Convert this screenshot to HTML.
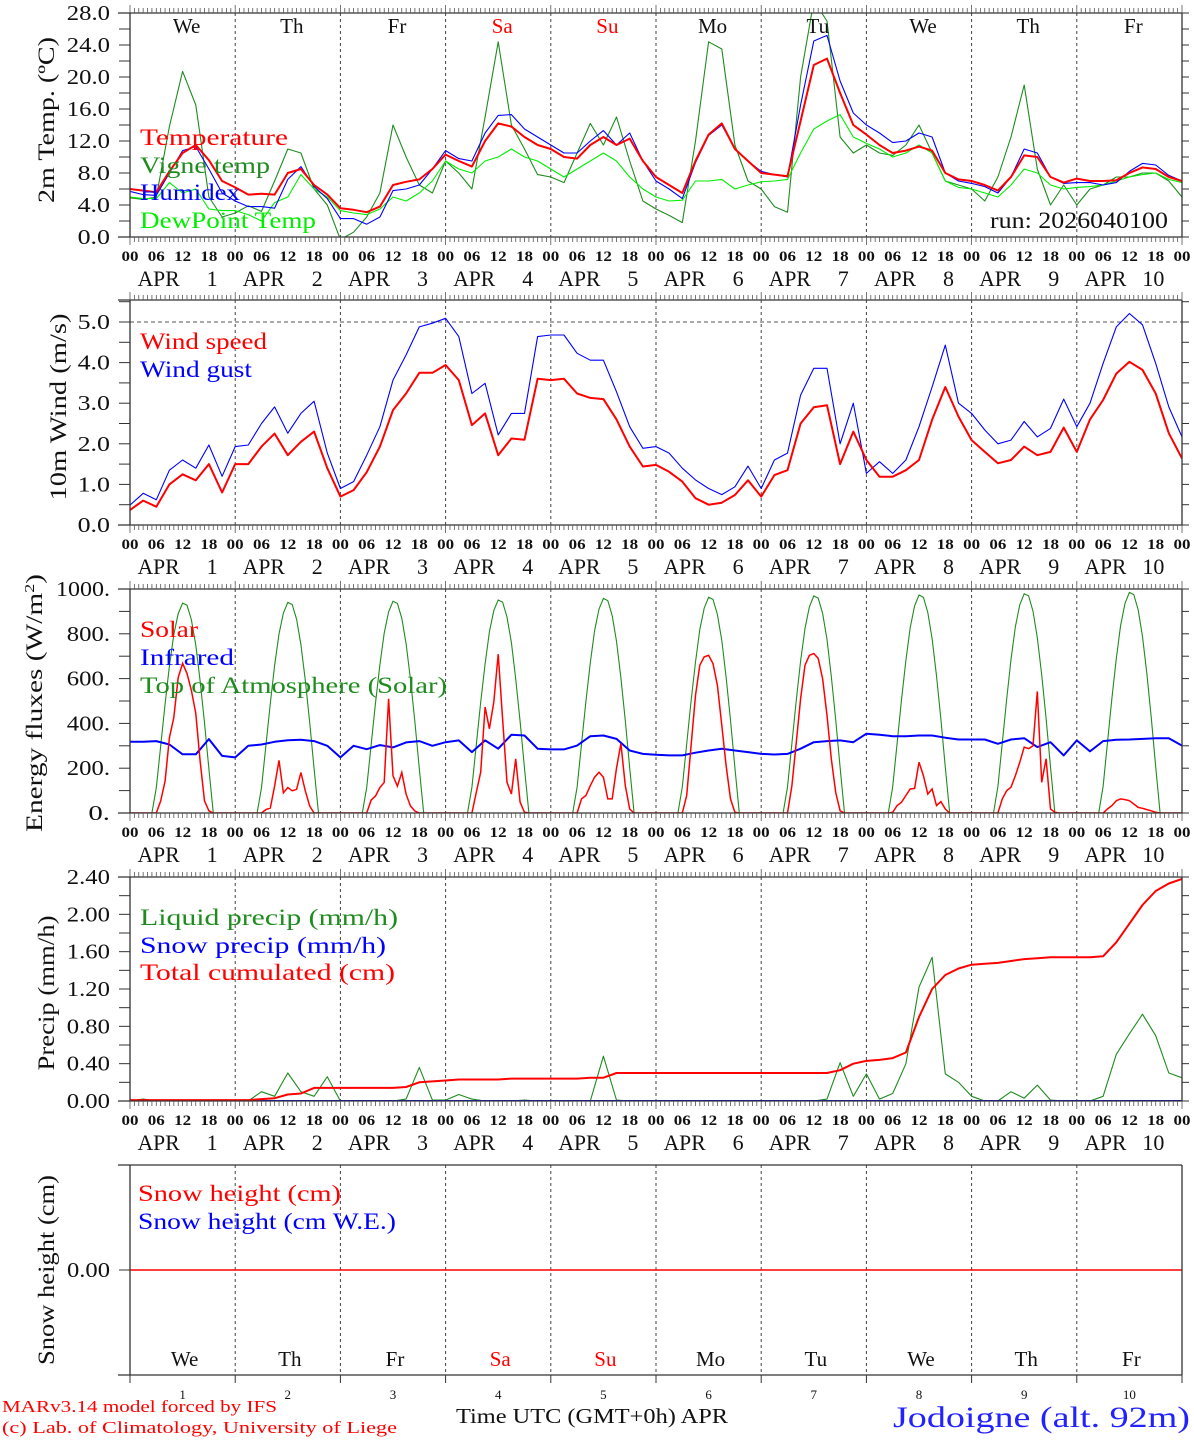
<!DOCTYPE html>
<html><head><meta charset="utf-8"><title>Jodoigne forecast</title>
<style>
html,body{margin:0;padding:0;background:#fff;}
svg{display:block;font-family:"Liberation Serif","DejaVu Serif",serif;}
</style></head>
<body>
<svg id="chart" xmlns="http://www.w3.org/2000/svg" width="1194" height="1440" viewBox="0 0 1194 1440">
<rect x="0" y="0" width="1194" height="1440" fill="#fff"/>
<g id="grid"></g>
<g id="series"></g>
<g id="axes"></g>
<g id="labels" font-size="23">
  <text x="140" y="145" fill="#ff0000" textLength="148" lengthAdjust="spacingAndGlyphs">Temperature</text>
  <text x="140" y="173" fill="#1e8c1e" textLength="130" lengthAdjust="spacingAndGlyphs">Vigne temp</text>
  <text x="140" y="200" fill="#0000ff" textLength="100" lengthAdjust="spacingAndGlyphs">Humidex</text>
  <text x="140" y="228" fill="#00ee00" textLength="176" lengthAdjust="spacingAndGlyphs">DewPoint Temp</text>
  <text x="990" y="228" fill="#111" textLength="178" lengthAdjust="spacingAndGlyphs">run: 2026040100</text>
  <text x="140" y="349" fill="#ff0000" textLength="127" lengthAdjust="spacingAndGlyphs">Wind speed</text>
  <text x="140" y="377" fill="#0000ff" textLength="112" lengthAdjust="spacingAndGlyphs">Wind gust</text>
  <text x="140" y="637" fill="#ff0000" textLength="58" lengthAdjust="spacingAndGlyphs">Solar</text>
  <text x="140" y="665" fill="#0000ff" textLength="94" lengthAdjust="spacingAndGlyphs">Infrared</text>
  <text x="140" y="693" fill="#1e8c1e" textLength="307" lengthAdjust="spacingAndGlyphs">Top of Atmosphere (Solar)</text>
  <text x="140" y="925" fill="#1e8c1e" textLength="258" lengthAdjust="spacingAndGlyphs">Liquid precip (mm/h)</text>
  <text x="140" y="953" fill="#0000ff" textLength="246" lengthAdjust="spacingAndGlyphs">Snow precip (mm/h)</text>
  <text x="140" y="980" fill="#ff0000" textLength="255" lengthAdjust="spacingAndGlyphs">Total cumulated (cm)</text>
  <text x="138" y="1201" fill="#ff0000" textLength="203" lengthAdjust="spacingAndGlyphs">Snow height (cm)</text>
  <text x="138" y="1229" fill="#0000ff" textLength="258" lengthAdjust="spacingAndGlyphs">Snow height (cm W.E.)</text>
  <text transform="translate(54,120) rotate(-90)" text-anchor="middle" fill="#111" textLength="166" lengthAdjust="spacingAndGlyphs">2m Temp. (ºC)</text>
  <text transform="translate(66,407) rotate(-90)" text-anchor="middle" fill="#111" textLength="187" lengthAdjust="spacingAndGlyphs">10m Wind (m/s)</text>
  <text transform="translate(42,703) rotate(-90)" text-anchor="middle" fill="#111" textLength="258" lengthAdjust="spacingAndGlyphs">Energy fluxes (W/m<tspan font-size="14" dy="-8">2</tspan><tspan dy="8">)</tspan></text>
  <text transform="translate(54,993) rotate(-90)" text-anchor="middle" fill="#111" textLength="155" lengthAdjust="spacingAndGlyphs">Precip (mm/h)</text>
  <text transform="translate(54,1270) rotate(-90)" text-anchor="middle" fill="#111" textLength="190" lengthAdjust="spacingAndGlyphs">Snow height (cm)</text>
  <text x="2" y="1412" font-size="17" fill="#ff0000" textLength="275" lengthAdjust="spacingAndGlyphs">MARv3.14 model forced by IFS</text>
  <text x="2" y="1433" font-size="17" fill="#ff0000" textLength="395" lengthAdjust="spacingAndGlyphs">(c) Lab. of Climatology, University of Liege</text>
  <text x="456" y="1423" font-size="21" fill="#111" textLength="272" lengthAdjust="spacingAndGlyphs">Time UTC (GMT+0h) APR</text>
  <text x="893" y="1427" font-size="30" fill="#2222ff" textLength="297" lengthAdjust="spacingAndGlyphs">Jodoigne (alt. 92m)</text>
</g>
</svg>
<script>
// ---- data (3-hourly unless noted, index i => hour 3*i from APR 1 00UTC) ----
const dayNames = ["We","Th","Fr","Sa","Su","Mo","Tu","We","Th","Fr"];
const dayNumbers = ["1","2","3","4","5","6","7","8","9","10"];
const hourLabels = ["00","06","12","18"];
const tempTicks = [0,4,8,12,16,20,24,28];
const windTicks = [0,1,2,3,4,5];
const energyTicks = [0,200,400,600,800,1000];
const precipTicks = [0,0.4,0.8,1.2,1.6,2.0,2.4];
const temperature = [6.0,5.8,5.6,8.2,10.5,11.5,9.6,7.0, 6.2,5.3,5.4,5.3,8.0,8.5,6.5,5.3, 3.6,3.4,3.1,3.8,6.5,6.9,7.2,8.5, 10.3,9.5,8.8,12.0,14.2,13.8,12.5,11.5, 11.0,10.0,9.8,11.5,12.5,11.5,12.3,9.5, 7.5,6.5,5.5,9.5,12.8,14.2,11.0,9.5, 8.0,7.8,7.6,14.5,21.5,22.3,18.0,14.0, 12.8,11.5,10.5,10.8,11.3,10.8,8.0,7.2, 7.0,6.5,5.8,7.5,10.2,10.0,7.5,6.8, 7.3,7.0,7.0,7.1,8.0,8.7,8.5,7.5, 7.0];
const humidex = [5.7,5.3,5.2,8.0,10.8,11.3,8.5,5.5, 4.5,3.8,3.8,3.6,7.2,8.8,6.3,4.8, 2.3,2.3,1.6,2.5,5.8,6.0,6.5,8.5, 10.8,9.8,9.5,13.0,15.2,15.3,13.5,12.5, 11.5,10.5,10.5,12.0,13.3,11.5,13.0,9.5, 7.0,6.0,4.8,9.3,12.7,14.0,11.0,9.5, 8.2,7.8,7.5,16.5,24.5,25.2,19.5,15.5, 14.0,13.0,11.8,12.0,13.0,12.5,8.0,7.0, 6.7,6.3,5.5,7.5,11.0,10.5,7.5,6.7, 6.8,6.8,6.5,6.8,8.2,9.2,9.0,7.7, 7.0];
const dewPoint = [5.0,4.8,4.8,6.8,5.5,6.0,3.5,3.3, 3.3,2.8,2.0,4.3,5.0,7.8,6.0,5.0, 3.3,3.0,2.8,3.5,5.0,4.5,5.5,7.0, 9.5,8.5,8.0,9.5,10.0,11.0,10.0,9.5, 8.5,7.5,8.5,9.5,10.5,9.5,7.5,6.0, 5.0,4.5,4.6,7.0,7.0,7.2,6.0,6.5, 6.9,7.0,7.2,10.5,13.5,14.5,15.3,12.5, 11.7,11.0,10.0,10.5,11.5,10.5,7.0,6.2, 6.0,5.5,5.0,6.5,8.5,8.0,6.5,6.0, 6.2,6.3,6.5,7.0,7.5,7.8,8.0,7.2, 6.8];
const vigneTemp = [4.9,4.7,5.0,13.8,20.7,16.5,5.0,2.5, 3.0,3.9,3.2,7.0,11.0,10.5,6.0,4.0, -0.3,0.6,2.5,5.5,14.0,10.0,6.5,5.5, 9.5,8.0,6.0,15.0,24.4,14.0,11.0,7.8, 7.5,6.8,10.5,14.2,11.5,15.0,9.5,4.5, 3.5,2.7,1.8,12.0,24.4,23.5,11.5,7.0, 6.0,3.8,3.1,20.0,29.5,27.0,12.5,10.5, 11.5,10.5,10.2,11.5,14.0,10.5,7.0,6.5, 6.0,4.5,7.5,12.5,19.0,8.5,4.0,6.5, 4.0,6.0,6.5,7.5,7.5,8.0,8.0,7.0, 5.0];
const windSpeed = [0.37,0.6,0.45,1.0,1.25,1.1,1.5,0.8, 1.5,1.5,1.93,2.25,1.72,2.05,2.3,1.4, 0.7,0.86,1.3,1.93,2.83,3.24,3.75,3.75, 3.94,3.57,2.46,2.75,1.72,2.13,2.1,3.6, 3.57,3.6,3.24,3.13,3.1,2.6,1.93,1.44, 1.48,1.31,1.07,0.66,0.5,0.55,0.74,1.1, 0.7,1.23,1.35,2.5,2.9,2.95,1.5,2.3, 1.6,1.19,1.19,1.35,1.6,2.59,3.4,2.67, 2.09,1.8,1.52,1.6,1.93,1.72,1.8,2.4, 1.8,2.6,3.08,3.73,4.02,3.82,3.24,2.26, 1.64];
const windGust = [0.49,0.78,0.62,1.35,1.6,1.4,1.97,1.2, 1.93,1.97,2.5,2.91,2.26,2.75,3.05,1.77, 0.9,1.07,1.72,2.42,3.57,4.19,4.88,4.97, 5.09,4.64,3.24,3.49,2.22,2.75,2.75,4.64, 4.68,4.68,4.23,4.06,4.06,3.28,2.42,1.89, 1.93,1.77,1.4,1.11,0.9,0.75,0.94,1.45, 0.9,1.6,1.77,3.2,3.86,3.86,2.0,3.0, 1.27,1.56,1.27,1.6,2.42,3.4,4.43,3.0, 2.75,2.34,2.0,2.09,2.55,2.17,2.38,3.1, 2.42,3.0,3.98,4.88,5.21,4.93,3.98,2.91, 2.17];
const infrared = [318,318,321,306,262,262,330,255, 248,300,306,318,325,327,321,300, 248,300,285,303,293,315,321,300, 316,324,272,324,287,349,346,287, 284,284,301,343,346,331,279,264, 260,257,257,269,279,287,279,272, 264,261,264,287,316,321,324,316, 354,349,343,343,346,346,336,328, 328,328,309,328,334,294,316,257, 324,275,321,327,328,331,334,334, 301];
// solar: hourly values for hours 6..19 of each day (zero otherwise)
const solarDay1 = [0,54,143,336,426,605,668,623,547,444,233,54,10,0];
const solarDay2 = [0,15,22,120,235,90,114,99,106,181,99,31,0,0];
const solarDay3 = [0,57,76,114,136,510,166,120,181,84,31,9,0,0];
const solarDay4 = [0,92,182,473,376,495,709,420,137,85,242,48,3,0];
const solarDay5 = [0,63,78,122,160,182,160,63,63,200,310,122,18,0];
const solarDay6 = [0,78,301,525,660,697,704,667,570,391,212,63,3,0];
const solarDay7 = [0,122,316,510,660,704,712,690,600,436,242,92,10,0];
const solarDay8 = [3,33,48,78,107,110,227,167,85,107,33,51,18,0];
const solarDay9 = [0,63,100,115,167,227,294,287,300,543,137,242,18,3];
const solarDay10 = [0,18,33,55,63,60,55,40,25,21,15,10,3,0];
// top of atmosphere: daily peak and hourly fraction profile (hours 5..19)
const toaPeak = [937,940,945,951,958,963,969,973,979,985];
const toaProfile = [0,0.12,0.32,0.52,0.7,0.85,0.95,1.0,0.99,0.92,0.8,0.63,0.43,0.21,0];
const liquidPrecip = [0,0.02,0,0,0,0,0,0, 0,0,0.1,0.05,0.3,0.1,0.05,0.26, 0,0,0,0,0,0.02,0.36,0.01, 0.01,0.07,0.02,0,0,0,0.01,0, 0,0,0,0,0.48,0.01,0,0, 0,0,0,0,0,0,0,0, 0,0,0,0,0,0.02,0.41,0.05, 0.29,0.02,0.08,0.4,1.22,1.54,0.29,0.2, 0.05,0,0,0.1,0.03,0.17,0.01,0, 0,0,0.05,0.5,0.72,0.93,0.7,0.3, 0.25];
const totalCumulated = [0.01,0.01,0.01,0.01,0.01,0.01,0.01,0.01, 0.01,0.01,0.02,0.03,0.07,0.08,0.14,0.14, 0.14,0.14,0.14,0.14,0.14,0.15,0.20,0.21, 0.22,0.23,0.23,0.23,0.23,0.24,0.24,0.24, 0.24,0.24,0.24,0.25,0.25,0.30,0.30,0.30, 0.30,0.30,0.30,0.30,0.30,0.30,0.30,0.30, 0.30,0.30,0.30,0.30,0.30,0.30,0.33,0.40, 0.43,0.44,0.46,0.52,0.90,1.20,1.35,1.42, 1.46,1.47,1.48,1.50,1.52,1.53,1.54,1.54, 1.54,1.54,1.55,1.70,1.90,2.10,2.25,2.33, 2.38];
// daily (every 24 h)
const snowPrecip = [0,0,0,0,0,0,0,0,0,0,0];
const snowHeight = [0,0,0,0,0,0,0,0,0,0,0];

// ---- layout ----
const NS = "http://www.w3.org/2000/svg";
const X0 = 130, X1 = 1182;
const xh = h => X0 + h * (X1 - X0) / 240;
const P = [
  {top:13, bot:237, min:0, max:28},
  {top:300, bot:525, min:0, max:(525-300)/40.6},
  {top:589, bot:813, min:0, max:1000},
  {top:877, bot:1101, min:0, max:2.4},
  {top:1165, bot:1375, min:-1, max:1}
];
const yv = (p, v) => p.bot - (v - p.min) / (p.max - p.min) * (p.bot - p.top);
const gGrid = document.getElementById('grid');
const gSer = document.getElementById('series');
const gAx = document.getElementById('axes');
const gLab = document.getElementById('labels');

function mk(tag, attrs, parent, name) {
  const el = document.createElementNS(NS, tag);
  for (const k in attrs) el.setAttribute(k, attrs[k]);
  
  
  parent.appendChild(el);
  return el;
}
function txt(x, y, s, size, fill, anchor, parent, name, len) {
  const a = {x:x, y:y, 'font-size':size, fill:fill, 'text-anchor':anchor};
  if (len) { a.textLength = len; a.lengthAdjust = 'spacingAndGlyphs'; }
  const el = mk('text', a, parent, name);
  el.textContent = s;
  return el;
}

const defs = mk('defs', {}, document.getElementById('chart'), 'defs');
P.forEach((p, i) => {
  const cp = mk('clipPath', {id:'clip'+i}, defs, 'clip-panel-'+(i+1));
  mk('rect', {x:X0, y:p.top, width:X1-X0, height:p.bot-p.top}, cp, 'clip-rect');
});

P.forEach((p, pi) => {
  const frame = mk('g', {stroke:'#333', 'stroke-width':1.3, fill:'none'}, gAx, 'panel-frame-'+(pi+1));
  mk('line', {x1:118, y1:p.top, x2:X1, y2:p.top}, frame, 'top-border');
  mk('line', {x1:118, y1:p.bot, x2:X1, y2:p.bot}, frame, 'bottom-border');
  mk('line', {x1:X0, y1:p.top, x2:X0, y2:p.bot}, frame, 'left-axis');
  mk('line', {x1:X1, y1:p.top, x2:X1, y2:p.bot}, frame, 'right-axis');
  for (let d = 1; d < 10; d++) {
    mk('line', {x1:xh(d*24), y1:p.top, x2:xh(d*24), y2:p.bot, stroke:'#444', 'stroke-width':1, 'stroke-dasharray':'3,3'}, gGrid, 'day-gridline');
  }
  if (pi < 4) {
    for (let h = 0; h <= 240; h++) {
      const L = (h % 24 === 0) ? 8 : 5;
      mk('line', {x1:xh(h), y1:p.top-L, x2:xh(h), y2:p.top, stroke:'#555', 'stroke-width':0.8}, gAx, 'hour-tick-top');
      mk('line', {x1:xh(h), y1:p.bot, x2:xh(h), y2:p.bot+L, stroke:'#555', 'stroke-width':0.8}, gAx, 'hour-tick-bottom');
    }
    for (let d = 0; d <= 10; d++) {
      hourLabels.forEach((hl, k) => {
        if (d === 10 && k > 0) return;
        const t = txt(xh(d*24 + k*6), p.bot+24, hl, 15, '#111', 'middle', gLab, 'hour-label', 17);
        t.setAttribute('font-weight', 'bold');
      });
      if (d < 10) {
        const t = txt(xh(d*24+12) - 3, p.bot+49, 'APR', 22, '#111', 'end', gLab, 'date-label-month', 42);
        txt(xh(d*24+12) + 35, p.bot+49, dayNumbers[d], 22, '#111', 'end', gLab, 'date-label-day');
      }
    }
  } else {
    for (let d = 0; d <= 10; d++) {
      mk('line', {x1:xh(d*24), y1:p.bot, x2:xh(d*24), y2:p.bot+8, stroke:'#333', 'stroke-width':1}, gAx, 'day-tick-bottom');
    }
  }
});

function yTicks(p, ticks, minorStep, fmt, name) {
  for (let v = p.min; v <= p.max + 1e-9; v += minorStep) {
    mk('line', {x1:119, y1:yv(p,v), x2:X0, y2:yv(p,v), stroke:'#333', 'stroke-width':1}, gAx, name+'-minor-tick');
    mk('line', {x1:X1, y1:yv(p,v), x2:X1+7, y2:yv(p,v), stroke:'#333', 'stroke-width':1}, gAx, name+'-right-tick');
  }
  ticks.forEach(v => {
    const s = fmt(v);
    txt(110, yv(p,v)+7, s, 21, '#111', 'end', gLab, name+'-tick-label', s.length*10.8);
  });
}
yTicks(P[0], tempTicks, 2, v => v.toFixed(1), 'temp');
yTicks(P[1], windTicks, 0.5, v => v.toFixed(1), 'wind');
yTicks(P[2], energyTicks, 100, v => v.toFixed(0) + '.', 'energy');
yTicks(P[3], precipTicks, 0.2, v => v.toFixed(2), 'precip');
mk('line', {x1:119, y1:yv(P[4],0), x2:X0, y2:yv(P[4],0), stroke:'#333', 'stroke-width':1}, gAx, 'snow-tick');
txt(110, yv(P[4],0)+7, '0.00', 21, '#111', 'end', gLab, 'snow-tick-label', 43);
mk('line', {x1:X0, y1:yv(P[1],5), x2:X1, y2:yv(P[1],5), stroke:'#555', 'stroke-width':1, 'stroke-dasharray':'4,3'}, gGrid, 'wind-5ms-reference');

dayNames.forEach((dn, d) => {
  const col = (dn === 'Sa' || dn === 'Su') ? '#ff0000' : '#111';
  txt(xh(d*24+12)+4, 33, dn, 21, col, 'middle', gLab, 'day-name-top');
  txt(xh(d*24+12)+2, 1366, dn, 21, col, 'middle', gLab, 'day-name-bottom');
  txt(xh(d*24+12), 1399, dayNumbers[d], 13, '#111', 'middle', gLab, 'day-number');
});

function line3h(p, pi, arr, color, w, name) {
  const pts = arr.map((v, i) => xh(i*3).toFixed(1) + ',' + yv(p, v).toFixed(1)).join(' ');
  mk('polyline', {points:pts, fill:'none', stroke:color, 'stroke-width':w, 'stroke-linejoin':'round', 'clip-path':'url(#clip'+pi+')'}, gSer, name);
}
function lineStep(p, pi, arr, stepH, color, w, name) {
  const pts = arr.map((v, i) => xh(i*stepH).toFixed(1) + ',' + yv(p, v).toFixed(1)).join(' ');
  mk('polyline', {points:pts, fill:'none', stroke:color, 'stroke-width':w, 'clip-path':'url(#clip'+pi+')'}, gSer, name);
}
line3h(P[0], 0, vigneTemp, '#1e8c1e', 1.1, 'vigne-temp-line');
line3h(P[0], 0, dewPoint, '#00ee00', 1.1, 'dewpoint-line');
line3h(P[0], 0, humidex, '#0000ff', 1.1, 'humidex-line');
line3h(P[0], 0, temperature, '#ff0000', 2, 'temperature-line');
line3h(P[1], 1, windGust, '#0000ff', 1.1, 'wind-gust-line');
line3h(P[1], 1, windSpeed, '#ff0000', 2, 'wind-speed-line');
const solarDays = [solarDay1,solarDay2,solarDay3,solarDay4,solarDay5,solarDay6,solarDay7,solarDay8,solarDay9,solarDay10];
const solarHourly = [], toaHourly = [];
for (let d = 0; d < 10; d++) {
  for (let h = 0; h < 24; h++) {
    solarHourly.push(h >= 6 && h <= 19 ? solarDays[d][h-6] : 0);
    toaHourly.push(h >= 5 && h <= 19 ? toaPeak[d] * toaProfile[h-5] : 0);
  }
}
solarHourly.push(0); toaHourly.push(0);
lineStep(P[2], 2, toaHourly, 1, '#1e8c1e', 1.1, 'toa-solar-line');
line3h(P[2], 2, infrared, '#0000ff', 2, 'infrared-line');
lineStep(P[2], 2, solarHourly, 1, '#ff0000', 1.5, 'solar-line');
line3h(P[3], 3, liquidPrecip, '#1e8c1e', 1.1, 'liquid-precip-line');
lineStep(P[3], 3, snowPrecip, 24, '#0000ff', 2, 'snow-precip-line');
line3h(P[3], 3, totalCumulated, '#ff0000', 2, 'total-cumulated-line');
lineStep(P[4], 4, snowHeight, 24, '#ff0000', 1.5, 'snow-height-line');
</script>
</body></html>
